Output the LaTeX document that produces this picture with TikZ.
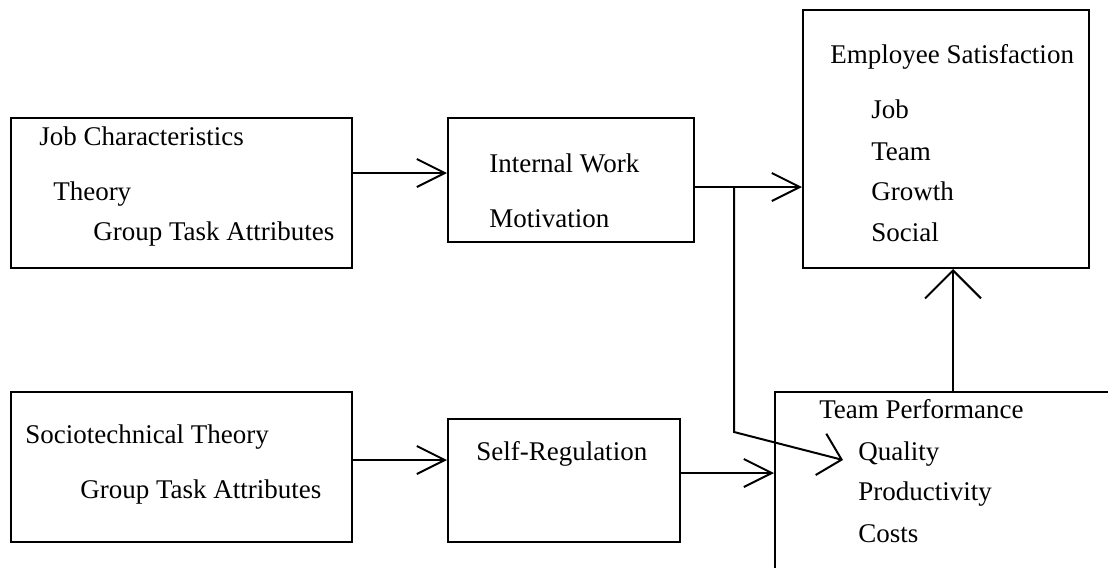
\documentclass[tikz,border=0pt]{standalone}
\usepackage{fontspec}
\setmainfont{Liberation Serif}
\usetikzlibrary{arrows.meta}
\tikzset{%
  every block/.style={
    draw,
    line width=1.5pt,
    inner sep=0pt
  },
  block text/.style={
    anchor=base west,
    inner sep=0pt,
    font=\fontsize{20.25}{24}\selectfont
  },
  feed/.style={
    line width=1.5pt,
    -{Straight Barb[length=21pt,width=21pt]}
  },
  steep feed/.style={
    line width=1.5pt,
    -{Straight Barb[length=21pt,width=42pt]}
  },
  side feed/.style={
    line width=1.5pt,
    -{Straight Barb[length=16pt,width=32pt]}
  },
}

\begin{document}
\begin{tikzpicture}[x=0.75pt, y=-0.75pt]
    \useasboundingbox (0,0) rectangle (1108,568);

    % boxes: name/centre x/centre y/width/height (px)
    \foreach \n/\cx/\cy/\w/\h in {jct/181.5/193/341/150, iwm/571/180/246/124,
        sat/946/139/286/258, soc/181.5/467/341/150, reg/564/480.5/232/123,
        perf/945/481/340/178}
      \node [every block, minimum width=\w*0.75pt, minimum height=\h*0.75pt] (\n) at (\cx,\cy) {};

    \foreach \t/\x/\y [count=\i] in {Job Characteristics/39/145, Theory/53/200,
        Group Task Attributes/93/240}
      \node [block text] (jct-\i) at (\x,\y) {\t};

    \foreach \t/\x/\y [count=\i] in {Internal Work/489/172, Motivation/489/227}
      \node [block text] (iwm-\i) at (\x,\y) {\t};

    \foreach \t/\x/\y [count=\i] in {Employee Satisfaction/830/63, Job/871/118,
        Team/871/160, Growth/871/200, Social/871/241}
      \node [block text] (sat-\i) at (\x,\y) {\t};

    \foreach \t/\x/\y [count=\i] in {Sociotechnical Theory/25/443,
        Group Task Attributes/80/498}
      \node [block text] (soc-\i) at (\x,\y) {\t};

    \node [block text] (reg-1) at (476,460) {Self-Regulation};

    \foreach \t/\x/\y [count=\i] in {Team Performance/819/418, Quality/858/460,
        Productivity/858/500, Costs/858/542}
      \node [block text] (perf-\i) at (\x,\y) {\t};

    \coordinate (split) at (734,187);
    \coordinate (bend) at (734,432);
    \coordinate (hit) at (843,460);

    \draw [feed] (jct.east |- 0,173) -- (iwm.west |- 0,173);
    \draw [feed] (iwm.east |- split) -- (sat.west |- split);
    \draw [side feed] (split) -- (bend) -- (hit);
    \draw [feed] (soc.east |- 0,460) -- (reg.west |- 0,460);
    \draw [feed] (reg.east |- 0,473) -- (perf.west |- 0,473);
    \draw [steep feed] (perf.north -| 953,0) -- (sat.south -| 953,0);

\end{tikzpicture}
\end{document}
